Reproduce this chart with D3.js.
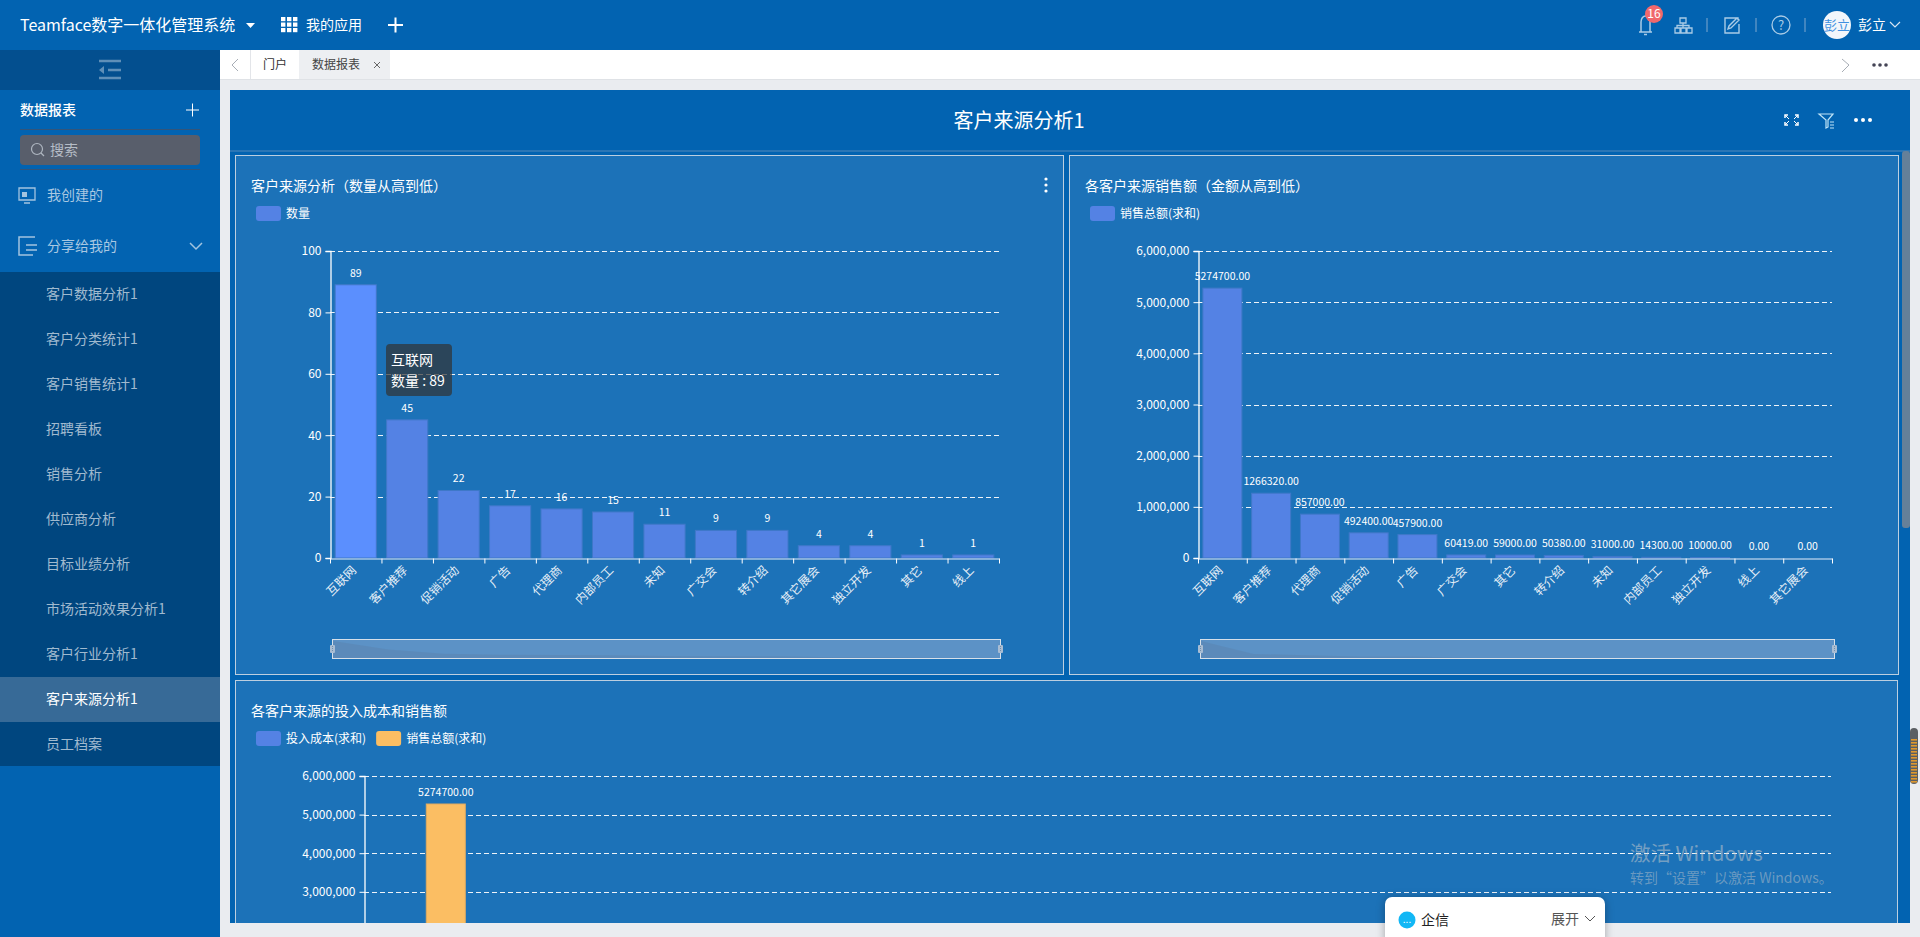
<!DOCTYPE html>
<html>
<head>
<meta charset="utf-8">
<script src="https://cdn.jsdelivr.net/npm/d3@7"></script>
<style>
  html, body { margin: 0; padding: 0; overflow: hidden; background: #eaecf0; }
  svg { display: block; }
  text { font-family: "Noto Sans CJK SC", "Noto Sans", sans-serif; }
</style>
</head>
<body>
<svg id="page" width="1920" height="937"></svg>
<script>
// chart data
const countCategories = ['互联网', '客户推荐', '促销活动', '广告', '代理商', '内部员工', '未知', '广交会', '转介绍', '其它展会', '独立开发', '其它', '线上'];
const countValues = [89, 45, 22, 17, 16, 15, 11, 9, 9, 4, 4, 1, 1];
const countTicks = [0, 20, 40, 60, 80, 100];

const salesCategories = ['互联网', '客户推荐', '代理商', '促销活动', '广告', '广交会', '其它', '转介绍', '未知', '内部员工', '独立开发', '线上', '其它展会'];
const salesValues = [5274700, 1266320, 857000, 492400, 457900, 60419, 59000, 50380, 31000, 14300, 10000, 0, 0];
const salesTicks = [0, 1000000, 2000000, 3000000, 4000000, 5000000, 6000000];

// menu text
const menuItems = ['客户数据分析1', '客户分类统计1', '客户销售统计1', '招聘看板', '销售分析', '供应商分析', '目标业绩分析', '市场活动效果分析1', '客户行业分析1', '客户来源分析1', '员工档案'];
const activeMenu = '客户来源分析1';

const BLUE = '#0263b1';
const PANEL = '#1c72b8';
const BAR = '#5482e4';
const BAR_HI = '#5b8ffe';
const ORANGE = '#fbbe63';

const svg = d3.select('#page');

function rect(parent, x, y, w, h, fill, r) {
  return parent.append('rect').attr('x', x).attr('y', y).attr('width', w).attr('height', h)
    .attr('fill', fill).attr('rx', r || 0);
}

function label(parent, x, y, str, size, fill, anchor) {
  return parent.append('text').attr('x', x).attr('y', y).attr('dy', '0.35em')
    .attr('font-size', size).attr('fill', fill).attr('text-anchor', anchor || 'start').text(str);
}

function path(parent, d, stroke, width, fill) {
  return parent.append('path').attr('d', d).attr('fill', fill || 'none')
    .attr('stroke', stroke).attr('stroke-width', width || 1);
}

// ---- page shell ----
function drawShell() {
  // top bar
  rect(svg, 0, 0, 1920, 50, BLUE);
  label(svg, 20, 25, 'Teamface数字一体化管理系统', 16, '#fff');
  path(svg, 'M246,23L255,23L250.5,28Z', 'none', 0, '#fff');
  for (let i = 0; i < 3; i++) {
    for (let j = 0; j < 3; j++) rect(svg, 281 + i * 6, 17 + j * 5.5, 4.4, 4.2, '#fff');
  }
  label(svg, 306, 25, '我的应用', 14, '#fff');
  path(svg, 'M388,25H403M395.5,17.5V32.5', '#fff', 2);

  // top right icons
  path(svg, 'M1639,32H1652M1641,32V22a4.5,6,0,0,1,9,0V32M1644,34.5H1647', '#a9cbe6', 1.5);
  svg.append('circle').attr('cx', 1654).attr('cy', 14).attr('r', 9).attr('fill', '#f0686c');
  label(svg, 1654, 14, '16', 12, '#fff', 'middle');
  path(svg, 'M1680,18h6v5h-6zM1675,28h5v5h-5zM1681,28h5v5h-5zM1687,28h5v5h-5zM1683,23v5M1677,28v-2.5h12V28', '#a9cbe6', 1.3);
  [1707, 1756, 1805].forEach(x => path(svg, `M${x},18V32`, '#7fa9cf', 1));
  path(svg, 'M1738,20V18H1725V33H1739V24M1728,29l1-3l8-8l2,2l-8,8z', '#a9cbe6', 1.4);
  svg.append('circle').attr('cx', 1781).attr('cy', 25).attr('r', 9).attr('fill', 'none').attr('stroke', '#a9cbe6').attr('stroke-width', 1.3);
  label(svg, 1781, 25, '?', 13, '#a9cbe6', 'middle');
  svg.append('circle').attr('cx', 1837).attr('cy', 25).attr('r', 14).attr('fill', '#f2f6fb');
  label(svg, 1837, 25, '彭立', 13, '#3f8fe0', 'middle');
  label(svg, 1858, 25, '彭立', 14, '#fff');
  path(svg, 'M1890,22L1895,27L1900,22', '#d8e6f3', 1.2);

  // sidebar
  rect(svg, 0, 50, 220, 887, BLUE);
  rect(svg, 0, 50, 220, 40, '#034f8f');
  path(svg, 'M99,61H121M108,70H121M99,78H121', '#5f8fb8', 2.5);
  path(svg, 'M104,66L99,70L104,74Z', 'none', 0, '#5f8fb8');
  label(svg, 20, 110, '数据报表', 14, '#fff').attr('font-weight', 500);
  path(svg, 'M186,110H199M192.5,103.5V116.5', '#fff', 1);
  path(svg, 'M20,129.5H200M20,169.5H200', '#33557a', 1);
  rect(svg, 20, 135, 180, 30, '#585e6b', 4);
  svg.append('circle').attr('cx', 37).attr('cy', 149).attr('r', 5.5).attr('fill', 'none').attr('stroke', '#aeb6c0').attr('stroke-width', 1.2);
  path(svg, 'M41,153L44,156', '#aeb6c0', 1.2);
  label(svg, 50, 150, '搜索', 14, '#b5bcc6');
  path(svg, 'M19,188H35V200H19ZM24,203H30', '#a3c4e0', 1.3);
  rect(svg, 22, 192, 5, 5, '#a3c4e0');
  label(svg, 47, 195, '我创建的', 14, '#a9c8e2');
  path(svg, 'M35,237H19V255H33M26,245H37M26,250H37', '#a3c4e0', 1.5);
  label(svg, 47, 246, '分享给我的', 14, '#a9c8e2');
  path(svg, 'M190,243L196,249L202,243', '#a3c4e0', 1.5);

  // sub menu
  rect(svg, 0, 272, 220, 494, '#00467f');
  const row = d3.scaleBand().domain(menuItems).range([272, 767]);
  svg.selectAll('.menu-bg').data(menuItems.filter(d => d === activeMenu)).enter().append('rect')
    .attr('class', 'menu-bg').attr('x', 0).attr('width', 220)
    .attr('y', d => row(d)).attr('height', row.bandwidth()).attr('fill', '#376a97');
  svg.selectAll('.menu').data(menuItems).enter().append('text')
    .attr('class', 'menu').attr('x', 46).attr('y', d => row(d) + row.bandwidth() / 2).attr('dy', '0.35em')
    .attr('font-size', 14).attr('fill', d => d === activeMenu ? '#fff' : '#a0bacf').text(d => d);

  // tab strip
  rect(svg, 220, 50, 1700, 29, '#fff');
  path(svg, 'M220,79.5H1920', '#dfe2e6', 1);
  path(svg, 'M238,59L232,65L238,71', '#a7adb5', 1);
  path(svg, 'M250.5,50V79', '#e3e5e9', 1);
  label(svg, 263, 65, '门户', 12, '#333');
  rect(svg, 299, 50, 91, 29, '#edeff2');
  label(svg, 312, 65, '数据报表', 12, '#444');
  path(svg, 'M374,62L380,68M380,62L374,68', '#666', 1);
  path(svg, 'M1842,59L1849,65L1842,72', '#a7adb5', 1);
  [1874, 1880, 1886].forEach(x => svg.append('circle').attr('cx', x).attr('cy', 65).attr('r', 1.8).attr('fill', '#445'));

  // report header
  rect(svg, 230, 90, 1680, 833, BLUE);
  path(svg, 'M230,151H1910', '#2a76b6', 2);
  label(svg, 1019, 121, '客户来源分析1', 20, '#fff', 'middle');
  path(svg, 'M1785,118V115H1788M1795,115H1798V118M1785,122V125H1788M1795,125H1798V122', '#fff', 1.5);
  path(svg, 'M1785,115L1789,119M1798,115L1794,119M1785,125L1789,121M1798,125L1794,121', '#fff', 1);
  path(svg, 'M1819,114H1833L1828,120V127L1826,128V120ZM1830,122H1834M1830,125H1834M1830,128H1834', '#bfe4f7', 1.2);
  [1856, 1863, 1870].forEach(x => svg.append('circle').attr('cx', x).attr('cy', 120).attr('r', 2).attr('fill', '#fff'));
}

// ---- one chart panel ----
function drawBarPanel(opt) {
  const g = svg.append('g');
  rect(g, opt.box[0] + 0.5, opt.box[1] + 0.5, opt.box[2], opt.box[3], PANEL)
    .attr('stroke', '#bccfe0').attr('stroke-width', 1);

  label(g, opt.titleX, opt.titleY, opt.title, 14, '#fff');
  let lx = opt.titleX + 5;
  const ly = opt.titleY + 20;
  opt.legend.forEach(d => {
    rect(g, lx, ly, 25, 15, d.color, 3);
    const t = label(g, lx + 30, ly + 7.5, d.name, 12, '#fff');
    lx += 30 + t.node().getComputedTextLength() + 10;
  });

  const x = d3.scaleBand().domain(opt.categories).range(opt.xRange).paddingInner(0.2).paddingOuter(0.1);
  const y = d3.scaleLinear().domain(d3.extent(opt.ticks)).range(opt.yRange);
  const bottom = opt.clipBottom || Infinity;
  const plot = g.append('g');

  if (opt.clipBottom) {
    const id = 'clip' + opt.box[1];
    svg.append('clipPath').attr('id', id).append('rect')
      .attr('x', opt.box[0] - 1).attr('y', opt.box[1]).attr('width', opt.box[2] + 2).attr('height', opt.clipBottom - opt.box[1]);
    plot.attr('clip-path', `url(#${id})`);
  }

  // dashed grid
  plot.selectAll('.grid').data(opt.ticks.filter(d => d > 0 && y(d) < bottom)).enter().append('line')
    .attr('x1', opt.xRange[0]).attr('x2', opt.xRange[1])
    .attr('y1', d => Math.round(y(d)) + 0.5).attr('y2', d => Math.round(y(d)) + 0.5)
    .attr('stroke', '#eef3f8').attr('stroke-dasharray', '5,3');

  // bars
  const bw = opt.barWidth || x.bandwidth();
  const bo = opt.barOffset || 0;
  plot.selectAll('.bar').data(opt.values).enter().append('rect')
    .attr('x', (d, i) => x(opt.categories[i]) + bo)
    .attr('width', bw)
    .attr('y', d => y(d))
    .attr('height', d => y(0) - y(d))
    .attr('fill', (d, i) => (opt.highlight === i ? BAR_HI : opt.barColor))
    .attr('stroke', opt.barStroke).attr('stroke-width', 1);

  // value labels, only the ones inside the visible part of the panel
  plot.selectAll('.val').data(opt.values.map((v, i) => ({ v, i })).filter(d => y(d.v) - 8 < bottom))
    .enter().append('text')
    .attr('x', d => x(opt.categories[d.i]) + bo + bw / 2)
    .attr('y', d => y(d.v) - 8)
    .attr('text-anchor', 'middle').attr('font-size', 10.5).attr('fill', '#fff')
    .text(d => opt.valueFormat(d.v));

  // axes
  const yAxis = d3.axisLeft(y).tickValues(opt.ticks.filter(d => y(d) < bottom))
    .tickFormat(d3.format(',')).tickSize(5).tickPadding(4);
  const yg = plot.append('g').attr('transform', `translate(${opt.xRange[0] + 0.5},0)`).call(yAxis);
  yg.selectAll('path,line').attr('stroke', '#fff');
  yg.select('.domain').attr('stroke-width', 1.3);
  yg.selectAll('text').attr('fill', '#fff').attr('font-size', 12)
    .style('font-family', '"Noto Sans CJK SC"');

  if (!opt.clipBottom) {
    const xAxis = d3.axisBottom(x).tickSize(0).tickPadding(0);
    const xg = plot.append('g').attr('transform', `translate(0,${opt.yRange[0] + 0.5})`).call(xAxis);
    xg.selectAll('path').attr('stroke', '#e4ecfa');
    xg.selectAll('text').attr('fill', '#e6eff7').attr('font-size', 12)
      .style('font-family', '"Noto Sans CJK SC"')
      .attr('text-anchor', 'end').attr('x', -8.1).attr('y', 5.9).attr('dy', '0.32em')
      .attr('transform', 'rotate(-45)');
    xg.selectAll('.edge').data(d3.range(opt.categories.length + 1)).enter().append('line')
      .attr('class', 'edge').attr('stroke', '#fff')
      .attr('x1', i => opt.xRange[0] + i * x.step() + 0.5).attr('x2', i => opt.xRange[0] + i * x.step() + 0.5)
      .attr('y1', 0).attr('y2', 5);
  }

  if (opt.slider) drawSlider(g, opt, opt.slider);
  return { x, y };
}

// range slider under the chart, with the faint series shadow inside
function drawSlider(g, opt, s) {
  rect(g, s[0] + 0.5, s[1] + 0.5, s[2], s[3], '#5c92c6').attr('stroke', '#d6e0ea').attr('stroke-width', 1);
  const sx = d3.scalePoint().domain(opt.categories).range([s[0] + 1, s[0] + s[2]]);
  const sy = d3.scaleLinear().domain([0, d3.max(opt.values)]).range([s[1] + s[3], s[1] + 2]);
  const shadow = d3.area()
    .x((d, i) => sx(opt.categories[i]))
    .y0(s[1] + s[3]).y1(d => sy(d));
  path(g, shadow(opt.values), 'none', 0, 'rgba(90,110,140,0.2)');
  [s[0], s[0] + s[2]].forEach(hx => {
    rect(g, hx - 2, s[1] + 6, 5, 8, '#a9bdd3', 1);
    path(g, `M${hx + 0.5},${s[1] + 7}V${s[1] + 13}`, '#6f8eab', 1).attr('stroke-dasharray', '1,1');
  });
}

drawShell();

drawBarPanel({
  box: [235, 155, 828, 519],
  title: '客户来源分析（数量从高到低）',
  titleX: 251, titleY: 186,
  legend: [{ name: '数量', color: BAR }],
  categories: countCategories,
  values: countValues,
  ticks: countTicks,
  xRange: [330, 999],
  yRange: [558, 251],
  barColor: BAR, barStroke: '#3f78c8',
  highlight: 0,
  valueFormat: d => d,
  slider: [332, 639, 668, 19]
});

// kebab menu on the first panel
[179, 185, 191].forEach(cy => svg.append('circle').attr('cx', 1046).attr('cy', cy).attr('r', 1.6).attr('fill', '#fff'));

// hover tooltip, sits over the first chart
rect(svg, 386, 344, 66, 52, 'rgba(50,50,50,0.7)', 4);
label(svg, 391, 360, countCategories[0], 14, '#fff');
label(svg, 391, 381, `数量 : ${countValues[0]}`, 14, '#fff');

drawBarPanel({
  box: [1069, 155, 829, 519],
  title: '各客户来源销售额（金额从高到低）',
  titleX: 1085, titleY: 186,
  legend: [{ name: '销售总额(求和)', color: BAR }],
  categories: salesCategories,
  values: salesValues,
  ticks: salesTicks,
  xRange: [1198, 1832],
  yRange: [558, 251],
  barColor: BAR, barStroke: '#3f78c8',
  valueFormat: d => d3.format('.2f')(d),
  slider: [1200, 639, 634, 19]
});

// third panel runs past the bottom of the view, only the top is visible
const x3Range = [364, 1831];
const barW3 = 39;
drawBarPanel({
  box: [235, 680, 1662, 300],
  title: '各客户来源的投入成本和销售额',
  titleX: 251, titleY: 711,
  legend: [{ name: '投入成本(求和)', color: BAR }, { name: '销售总额(求和)', color: ORANGE }],
  categories: salesCategories,
  values: salesValues,
  ticks: salesTicks,
  xRange: x3Range,
  yRange: [1007.6, 776],
  barColor: ORANGE, barStroke: '#e0ab62',
  barWidth: barW3,
  barOffset: 51,
  clipBottom: 923,
  valueFormat: d => d3.format('.2f')(d)
});

// cover what runs below the visible area
rect(svg, 220, 923, 1700, 14, '#eaecf0');

// inner scrollbar
rect(svg, 1902, 151, 8, 377, '#658099', 3);
// outer scrollbar
rect(svg, 1910, 728, 8, 56, '#5c5f63', 4);
d3.range(739, 782, 3).forEach(y => rect(svg, 1911, y, 6, 1.6, '#e0982e'));

// windows watermark
label(svg, 1630, 854, '激活 Windows', 20.5, 'rgba(205,205,205,0.5)');
label(svg, 1630, 878, '转到“设置”以激活 Windows。', 14, 'rgba(205,205,205,0.45)');

// chat popup
rect(svg, 1385, 897, 220, 50, '#fff', 7).style('filter', 'drop-shadow(0 1px 4px rgba(0,0,0,0.3))');
svg.append('circle').attr('cx', 1407).attr('cy', 920).attr('r', 8.5).attr('fill', '#12b7f5');
label(svg, 1407, 919, '...', 10, '#fff', 'middle');
label(svg, 1421, 920, '企信', 14, '#222');
label(svg, 1551, 919, '展开', 14, '#555');
path(svg, 'M1585,916L1590,921L1595,916', '#555', 1);
</script>
</body>
</html>
